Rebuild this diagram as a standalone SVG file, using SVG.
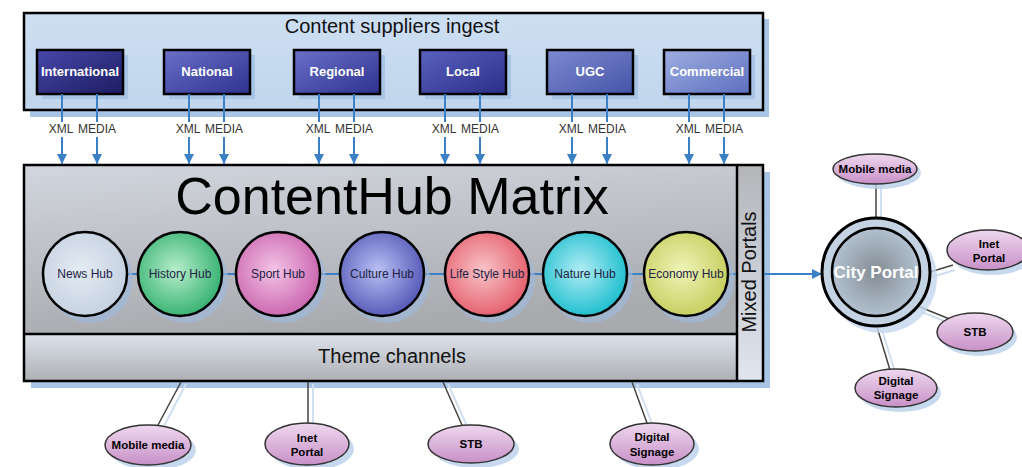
<svg xmlns="http://www.w3.org/2000/svg" width="1022" height="467" viewBox="0 0 1022 467">
<defs>
<style>
text{font-family:"Liberation Sans",Arial,sans-serif;}
.frame{stroke:#000;stroke-width:2.5;}
.shadow{fill:#a9c5e6;}
.sup{stroke:#000;stroke-width:2.5;}
.supt{fill:#fff;font-weight:bold;font-size:13px;text-anchor:middle;}
.lbl{fill:#333;font-size:12px;text-anchor:middle;}
.flow{stroke:#3b7fc4;stroke-width:2;fill:none;}
.hub{stroke:#000;stroke-width:2.5;}
.hubshadow{fill:#9fb9da;opacity:0.7;}
.hubt{fill:#222244;font-size:12px;text-anchor:middle;}
.sat{fill:url(#gSat);stroke:#333;stroke-width:1.5;}
.satshadow{fill:#b9d0ea;opacity:0.8;}
.satt{fill:#000;font-weight:bold;font-size:11.5px;text-anchor:middle;}
.link{stroke:#444;stroke-width:1.5;fill:none;}
.linkshadow{stroke:#cfdff0;stroke-width:2;fill:none;}
</style>
<marker id="arr" markerUnits="userSpaceOnUse" markerWidth="12" markerHeight="12" refX="10" refY="5" orient="auto">
<path d="M0,0 L10,5 L0,10 Z" fill="#3b7fc4"/>
</marker>
<linearGradient id="gTop" x1="0" y1="0" x2="0" y2="1"><stop offset="0" stop-color="#cddff2"/><stop offset="1" stop-color="#c0d5ec"/></linearGradient>
<linearGradient id="gMain" x1="0" y1="0" x2="0.3" y2="1"><stop offset="0" stop-color="#d2d6de"/><stop offset="1" stop-color="#a8aaae"/></linearGradient>
<linearGradient id="gTheme" x1="0" y1="0" x2="0" y2="1"><stop offset="0" stop-color="#dde3ec"/><stop offset="1" stop-color="#adafb3"/></linearGradient>
<linearGradient id="gMixed" x1="0" y1="0" x2="0" y2="1"><stop offset="0" stop-color="#b4b6ba"/><stop offset="1" stop-color="#e0e5ee"/></linearGradient>
<linearGradient id="gS1" x1="0" y1="0" x2="1" y2="1"><stop offset="0" stop-color="#4848aa"/><stop offset="1" stop-color="#1c1c62"/></linearGradient>
<linearGradient id="gS2" x1="0" y1="0" x2="1" y2="1"><stop offset="0" stop-color="#6a70c8"/><stop offset="1" stop-color="#2e3290"/></linearGradient>
<linearGradient id="gS3" x1="0" y1="0" x2="1" y2="1"><stop offset="0" stop-color="#5a62c0"/><stop offset="1" stop-color="#2a2e88"/></linearGradient>
<linearGradient id="gS4" x1="0" y1="0" x2="1" y2="1"><stop offset="0" stop-color="#7c8ad2"/><stop offset="1" stop-color="#4654a8"/></linearGradient>
<linearGradient id="gS5" x1="0" y1="0" x2="1" y2="1"><stop offset="0" stop-color="#9eaee0"/><stop offset="1" stop-color="#5e6ec0"/></linearGradient>
<radialGradient id="gNews" cx="0.45" cy="0.45" r="0.6"><stop offset="0" stop-color="#e4ebf3"/><stop offset="1" stop-color="#c4d0e0"/></radialGradient>
<radialGradient id="gHist" cx="0.45" cy="0.45" r="0.6"><stop offset="0" stop-color="#b6eecb"/><stop offset="1" stop-color="#2fae6c"/></radialGradient>
<radialGradient id="gSport" cx="0.45" cy="0.45" r="0.6"><stop offset="0" stop-color="#f4c4e6"/><stop offset="1" stop-color="#c860ac"/></radialGradient>
<radialGradient id="gCult" cx="0.45" cy="0.45" r="0.6"><stop offset="0" stop-color="#b8c0f4"/><stop offset="1" stop-color="#5254b4"/></radialGradient>
<radialGradient id="gLife" cx="0.45" cy="0.45" r="0.6"><stop offset="0" stop-color="#f8c4c8"/><stop offset="1" stop-color="#e45a68"/></radialGradient>
<radialGradient id="gNat" cx="0.45" cy="0.45" r="0.6"><stop offset="0" stop-color="#b0ecf4"/><stop offset="1" stop-color="#16bccc"/></radialGradient>
<radialGradient id="gEco" cx="0.45" cy="0.45" r="0.6"><stop offset="0" stop-color="#eef4b8"/><stop offset="1" stop-color="#c4cc5a"/></radialGradient>
<radialGradient id="gCity" cx="0.5" cy="0.5" r="0.55"><stop offset="0" stop-color="#858c94"/><stop offset="1" stop-color="#b6c6d6"/></radialGradient>
<linearGradient id="gSat" x1="0" y1="0" x2="0" y2="1"><stop offset="0" stop-color="#eed8ee"/><stop offset="1" stop-color="#c890c8"/></linearGradient>
</defs>

<g id="content-suppliers">
<rect class="shadow" x="30" y="19" width="739" height="98"/>
<rect class="frame" x="24" y="13" width="739" height="97" fill="url(#gTop)"/>
<text x="392" y="33" font-size="20" text-anchor="middle" fill="#111">Content suppliers ingest</text>
</g>

<g id="international"><rect class="shadow" x="42" y="55" width="86" height="44"/><rect class="sup" x="37" y="50" width="86" height="44" fill="url(#gS1)"/><text class="supt" x="80" y="76">International</text></g>
<g id="national"><rect class="shadow" x="169" y="55" width="86" height="44"/><rect class="sup" x="164" y="50" width="86" height="44" fill="url(#gS2)"/><text class="supt" x="207" y="76">National</text></g>
<g id="regional"><rect class="shadow" x="299" y="55" width="86" height="44"/><rect class="sup" x="294" y="50" width="86" height="44" fill="url(#gS2)"/><text class="supt" x="337" y="76">Regional</text></g>
<g id="local"><rect class="shadow" x="425" y="55" width="86" height="44"/><rect class="sup" x="420" y="50" width="86" height="44" fill="url(#gS3)"/><text class="supt" x="463" y="76">Local</text></g>
<g id="ugc"><rect class="shadow" x="552" y="55" width="86" height="44"/><rect class="sup" x="547" y="50" width="86" height="44" fill="url(#gS4)"/><text class="supt" x="590" y="76">UGC</text></g>
<g id="commercial"><rect class="shadow" x="669" y="55" width="86" height="44"/><rect class="sup" x="664" y="50" width="86" height="44" fill="url(#gS5)"/><text class="supt" x="707" y="76">Commercial</text></g>

<g id="contenthub-matrix">
<rect class="shadow" x="31" y="172" width="739" height="216"/>
<rect x="24" y="165" width="713" height="169" fill="url(#gMain)"/>
<rect x="24" y="334" width="713" height="47" fill="url(#gTheme)"/>
<rect x="737" y="165" width="26" height="216" fill="url(#gMixed)"/>
<rect class="frame" x="24" y="165" width="739" height="216" fill="none"/>
<line class="frame" x1="24" y1="334" x2="737" y2="334"/>
<line class="frame" x1="737" y1="165" x2="737" y2="381"/>
<text x="392" y="214" font-size="52" text-anchor="middle" fill="#000">ContentHub Matrix</text>
<text x="392" y="363" font-size="20" text-anchor="middle" fill="#111">Theme channels</text>
<text x="0" y="0" font-size="20" text-anchor="middle" fill="#111" transform="translate(756,272) rotate(-90)">Mixed Portals</text>
</g>

<g id="connectors">
<g id="ingest-flows">
<path class="flow" d="M62,94 V122 M62,137 V164" marker-end="url(#arr)"/>
<path class="flow" d="M97,94 V122 M97,137 V164" marker-end="url(#arr)"/>
<path class="flow" d="M189,94 V122 M189,137 V164" marker-end="url(#arr)"/>
<path class="flow" d="M224,94 V122 M224,137 V164" marker-end="url(#arr)"/>
<path class="flow" d="M319,94 V122 M319,137 V164" marker-end="url(#arr)"/>
<path class="flow" d="M354,94 V122 M354,137 V164" marker-end="url(#arr)"/>
<path class="flow" d="M445,94 V122 M445,137 V164" marker-end="url(#arr)"/>
<path class="flow" d="M480,94 V122 M480,137 V164" marker-end="url(#arr)"/>
<path class="flow" d="M572,94 V122 M572,137 V164" marker-end="url(#arr)"/>
<path class="flow" d="M607,94 V122 M607,137 V164" marker-end="url(#arr)"/>
<path class="flow" d="M689,94 V122 M689,137 V164" marker-end="url(#arr)"/>
<path class="flow" d="M724,94 V122 M724,137 V164" marker-end="url(#arr)"/>
</g>
<g id="flow-labels">
<text class="lbl" x="61" y="133">XML</text><text class="lbl" x="97" y="133">MEDIA</text>
<text class="lbl" x="188" y="133">XML</text><text class="lbl" x="224" y="133">MEDIA</text>
<text class="lbl" x="318" y="133">XML</text><text class="lbl" x="354" y="133">MEDIA</text>
<text class="lbl" x="444" y="133">XML</text><text class="lbl" x="480" y="133">MEDIA</text>
<text class="lbl" x="571" y="133">XML</text><text class="lbl" x="607" y="133">MEDIA</text>
<text class="lbl" x="688" y="133">XML</text><text class="lbl" x="724" y="133">MEDIA</text>
</g>
<path class="flow" d="M85,274 H736"/>
<path class="flow" d="M764,274 H822" marker-end="url(#arr)"/>
<g id="output-links">
<path class="linkshadow" d="M186,384 L164,426 M313,384 V424 M448,384 L467,426 M637,384 L652,424"/>
<path class="link" d="M181,382 L158,425 M308,382 V423 M443,382 L462,425 M632,382 L647,423"/>
<path class="linkshadow" d="M881,184 V220 M932,277 L955,270 M922,312 L954,325 M882,330 L895,372"/>
<path class="link" d="M876,182 V218 M930,272 L953,265 M920,307 L952,320 M877,327 L890,370"/>
</g>
</g>

<g id="news-hub"><circle class="hubshadow" cx="90" cy="280" r="43"/><circle class="hub" cx="85" cy="274" r="42" fill="url(#gNews)"/><text class="hubt" x="85" y="278">News Hub</text></g>
<g id="history-hub"><circle class="hubshadow" cx="185" cy="280" r="43"/><circle class="hub" cx="180" cy="274" r="42" fill="url(#gHist)"/><text class="hubt" x="180" y="278">History Hub</text></g>
<g id="sport-hub"><circle class="hubshadow" cx="283" cy="280" r="43"/><circle class="hub" cx="278" cy="274" r="42" fill="url(#gSport)"/><text class="hubt" x="278" y="278">Sport Hub</text></g>
<g id="culture-hub"><circle class="hubshadow" cx="387" cy="280" r="43"/><circle class="hub" cx="382" cy="274" r="42" fill="url(#gCult)"/><text class="hubt" x="382" y="278">Culture Hub</text></g>
<g id="life-style-hub"><circle class="hubshadow" cx="492" cy="280" r="43"/><circle class="hub" cx="487" cy="274" r="42" fill="url(#gLife)"/><text class="hubt" x="487" y="278">Life Style Hub</text></g>
<g id="nature-hub"><circle class="hubshadow" cx="590" cy="280" r="43"/><circle class="hub" cx="585" cy="274" r="42" fill="url(#gNat)"/><text class="hubt" x="585" y="278">Nature Hub</text></g>
<g id="economy-hub"><circle class="hubshadow" cx="691" cy="280" r="43"/><circle class="hub" cx="686" cy="274" r="42" fill="url(#gEco)"/><text class="hubt" x="686" y="278">Economy Hub</text></g>

<g id="city-portal">
<circle cx="882" cy="278" r="55" fill="#c3d6ec" opacity="0.8"/>
<circle cx="876" cy="272" r="54" fill="#c4d3e3" stroke="#000" stroke-width="3"/>
<circle cx="876" cy="272" r="44" fill="url(#gCity)" stroke="#000" stroke-width="2.5"/>
<text x="876" y="278" font-size="17" font-weight="bold" fill="#fff" text-anchor="middle">City Portal</text>
</g>

<g id="cp-mobile-media"><ellipse class="satshadow" cx="879" cy="173" rx="42" ry="16"/><ellipse class="sat" cx="875" cy="169" rx="42" ry="15"/><text class="satt" x="875" y="173">Mobile media</text></g>
<g id="cp-inet-portal"><ellipse class="satshadow" cx="992" cy="255" rx="41" ry="20"/><ellipse class="sat" cx="988" cy="250" rx="41" ry="20"/><text class="satt" x="989" y="248">Inet</text><text class="satt" x="989" y="262">Portal</text></g>
<g id="cp-stb"><ellipse class="satshadow" cx="979" cy="337" rx="38" ry="19"/><ellipse class="sat" cx="975" cy="332" rx="38" ry="19"/><text class="satt" x="975" y="336">STB</text></g>
<g id="cp-digital-signage"><ellipse class="satshadow" cx="900" cy="393" rx="41" ry="19"/><ellipse class="sat" cx="896" cy="388" rx="41" ry="19"/><text class="satt" x="896" y="385">Digital</text><text class="satt" x="896" y="399">Signage</text></g>

<g id="tc-mobile-media"><ellipse class="satshadow" cx="153" cy="450" rx="43" ry="20"/><ellipse class="sat" cx="148" cy="445" rx="43" ry="20"/><text class="satt" x="148" y="449">Mobile media</text></g>
<g id="tc-inet-portal"><ellipse class="satshadow" cx="312" cy="449" rx="42" ry="21"/><ellipse class="sat" cx="307" cy="444" rx="42" ry="21"/><text class="satt" x="307" y="442">Inet</text><text class="satt" x="307" y="456">Portal</text></g>
<g id="tc-stb"><ellipse class="satshadow" cx="476" cy="449" rx="43" ry="19"/><ellipse class="sat" cx="471" cy="444" rx="43" ry="19"/><text class="satt" x="471" y="448">STB</text></g>
<g id="tc-digital-signage"><ellipse class="satshadow" cx="657" cy="449" rx="42" ry="21"/><ellipse class="sat" cx="652" cy="444" rx="42" ry="21"/><text class="satt" x="652" y="441">Digital</text><text class="satt" x="652" y="456">Signage</text></g>
</svg>
